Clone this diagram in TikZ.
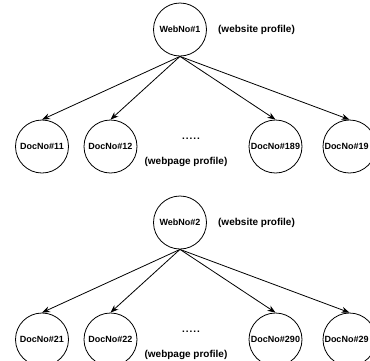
\documentclass[tikz,border=0pt]{standalone}
\usepackage{fontspec}
\setmainfont{Liberation Sans}
\usetikzlibrary{arrows.meta}
\begin{document}
\begin{tikzpicture}[x=1pt,y=-1pt,
  nd/.style={circle,draw,line width=0.8pt,minimum size=53pt,inner sep=0pt,font=\fontsize{9}{10}\selectfont\bfseries},
  lbl/.style={font=\fontsize{10}{12}\selectfont\bfseries,inner sep=0pt},
  arr/.style={-{Stealth[length=8pt,width=6pt]},line width=0.8pt}]
\useasboundingbox (0,0) rectangle (370,360);
\clip (0,0) rectangle (370,360);
% ---------- tree 1 ----------
\node[nd] (w1) at (180,29.5) {WebNo\#1};
\node[lbl] (ws1) at (256.5,29.5) {(website profile)};
\node[nd] (d11) at (42,146.5) {DocNo\#11};
\node[nd] (d12) at (110.5,146.5) {DocNo\#12};
\node[nd] (d189) at (275.5,146.5) {DocNo\#189};
\node[nd] (d19) at (349.5,146.5) {\makebox[50pt][l]{DocNo\#19}};
\node[lbl] (dots1) at (191,139) {.\kern1pt.\kern1pt.\kern1pt.\kern1pt.};
\node[lbl] (wp1) at (186,162) {(webpage profile)};
\draw[arr] (w1.south) -- (d11.north);
\draw[arr] (w1.south) -- (d12.north);
\draw[arr] (w1.south) -- (d189.north);
\draw[arr] (w1.south) -- (d19.north);
% ---------- tree 2 ----------
\node[nd] (w2) at (180,222.5) {WebNo\#2};
\node[lbl] (ws2) at (256.5,222.5) {(website profile)};
\node[nd] (d21) at (42,339.5) {DocNo\#21};
\node[nd] (d22) at (110.5,339.5) {DocNo\#22};
\node[nd] (d290) at (275.5,339.5) {DocNo\#290};
\node[nd] (d29) at (349.5,339.5) {\makebox[50pt][l]{DocNo\#29}};
\node[lbl] (dots2) at (191,332) {.\kern1pt.\kern1pt.\kern1pt.\kern1pt.};
\node[lbl] (wp2) at (186,355) {(webpage profile)};
\draw[arr] (w2.south) -- (d21.north);
\draw[arr] (w2.south) -- (d22.north);
\draw[arr] (w2.south) -- (d290.north);
\draw[arr] (w2.south) -- (d29.north);
\end{tikzpicture}
\end{document}
